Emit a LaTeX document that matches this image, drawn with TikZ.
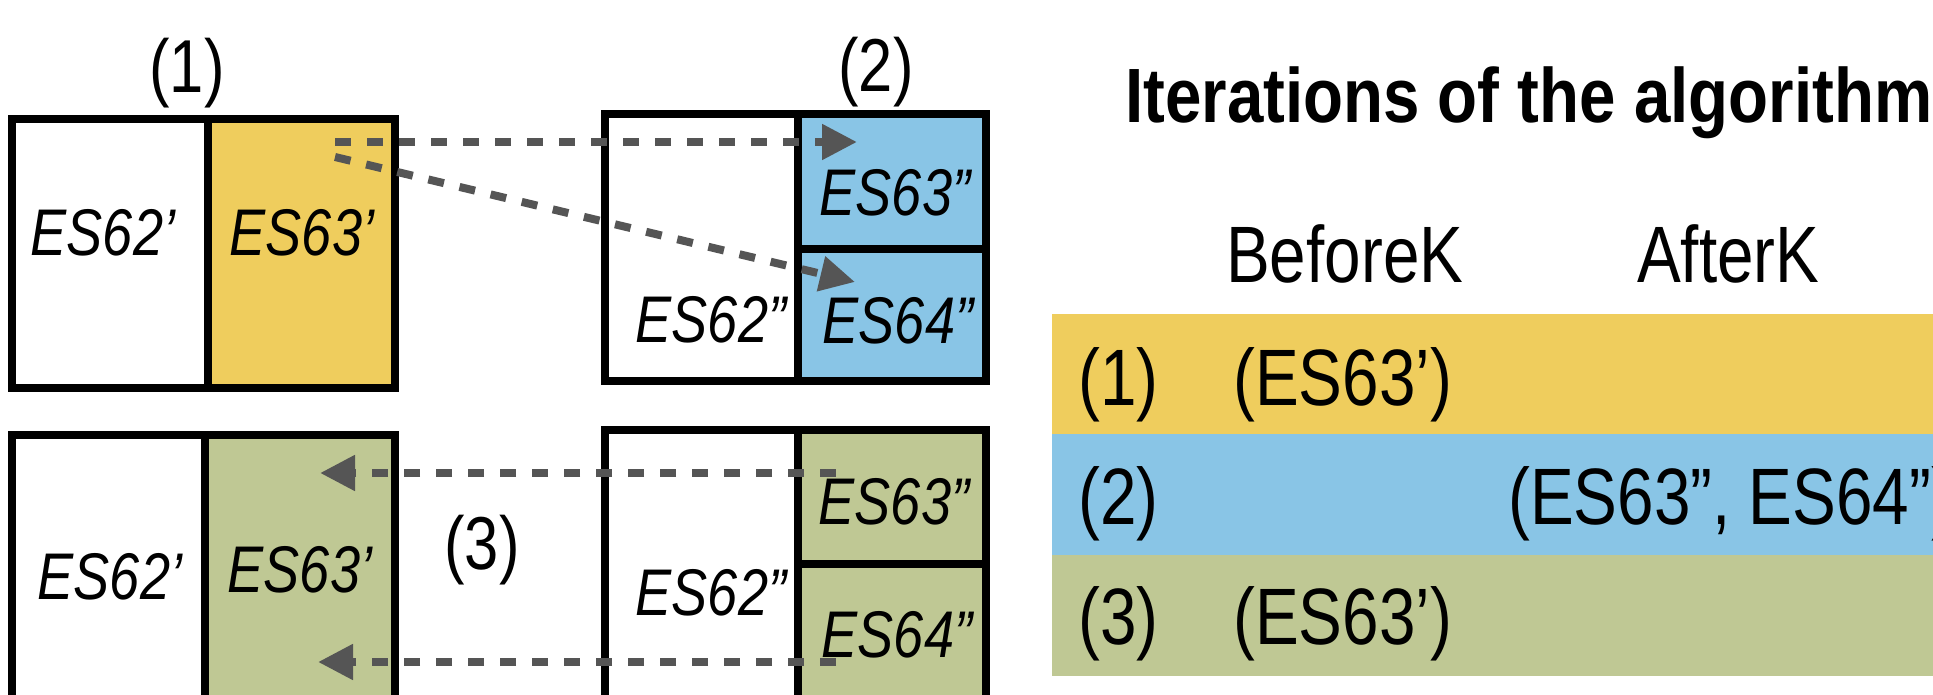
\documentclass[tikz,border=0pt]{standalone}
\usepackage{fontspec}
\setmainfont{Liberation Sans}
\newfontfamily\narrowfont[FakeStretch=0.82]{Liberation Sans}
\newfontfamily\narrowbold[FakeStretch=0.85]{Liberation Sans Bold}
\usetikzlibrary{arrows.meta}
\definecolor{cyel}{RGB}{239,205,93}
\definecolor{cblu}{RGB}{137,197,230}
\definecolor{cgrn}{RGB}{191,200,148}
\definecolor{carr}{RGB}{85,85,85}
\tikzset{
  cell/.style={draw=black, line width=8pt, inner sep=0pt, outer sep=0pt, rectangle},
  band/.style={inner sep=0pt, outer sep=0pt, rectangle, draw=none},
  lbl/.style={font=\narrowfont\itshape\fontsize{66}{70}\selectfont, inner sep=0pt, anchor=base},
  big/.style={font=\narrowfont\fontsize{80}{90}\selectfont, inner sep=0pt, anchor=base west},
  steplbl/.style={font=\narrowfont\fontsize{75}{80}\selectfont, inner sep=0pt},
  ttl/.style={font=\narrowbold\fontsize{77}{85}\selectfont, inner sep=0pt, anchor=base west},
  flow/.style={draw=carr, line width=8pt, dash pattern=on 16pt off 16pt,
    -{Triangle[length=35pt,width=34pt]}},
}
\begin{document}
\begin{tikzpicture}[x=1pt,y=-1pt]
\useasboundingbox (0,0) rectangle (1933,695);
\clip (0,0) rectangle (1933,695);

% box (1)
\node[cell, fill=white, minimum width=196pt, minimum height=269pt] (b1l) at (110,253.5) {};
\node[cell, fill=cyel, minimum width=187pt, minimum height=269pt] (b1r) at (301.5,253.5) {};
% box (2)
\node[cell, fill=white, minimum width=193pt, minimum height=267pt] (b2l) at (701.5,247.5) {};
\node[cell, fill=cblu, minimum width=188pt, minimum height=135pt] (b2t) at (892,181.5) {};
\node[cell, fill=cblu, minimum width=188pt, minimum height=132pt] (b2b) at (892,315) {};
% box (3) left
\node[cell, fill=white, minimum width=193pt, minimum height=325pt] (b3l) at (108.5,597.5) {};
\node[cell, fill=cgrn, minimum width=190pt, minimum height=325pt] (b3r) at (300,597.5) {};
% box (3) right
\node[cell, fill=white, minimum width=193pt, minimum height=330pt] (b4l) at (701.5,595) {};
\node[cell, fill=cgrn, minimum width=188pt, minimum height=134pt] (b4t) at (892,497) {};
\node[cell, fill=cgrn, minimum width=188pt, minimum height=196pt] (b4b) at (892,662) {};

% cell texts
\node[lbl] (t1l) at (103,255) {ES62’};
\node[lbl] (t1r) at (302,255) {ES63’};
\node[lbl] (t2l) at (711,342) {ES62”};
\node[lbl] (t2t) at (895,215) {ES63”};
\node[lbl] (t2b) at (898,343) {ES64”};
\node[lbl] (t3l) at (110,599) {ES62’};
\node[lbl] (t3r) at (300,592) {ES63’};
\node[lbl] (t4l) at (711,615) {ES62”};
\node[lbl] (t4t) at (894,524) {ES63”};
\node[lbl] (t4b) at (897,657) {ES64”};

% step labels
\node[steplbl] (s1lbl) at (187,73) {(1)};
\node[steplbl] (s2lbl) at (876,72) {(2)};
\node[steplbl] (s3lbl) at (482,550) {(3)};

% connectors
\coordinate (a1s) at (335,142); \coordinate (a1e) at (857,142);
\coordinate (a2s) at (335,157); \coordinate (a2e) at (855,282);
\coordinate (a3s) at (836,473); \coordinate (a3e) at (320,473);
\coordinate (a4s) at (836,662); \coordinate (a4e) at (318,662);
\draw[flow] (a1s) -- (a1e);
\draw[flow] (a2s) -- (a2e);
\draw[flow] (a3s) -- (a3e);
\draw[flow] (a4s) -- (a4e);

% table
\node[ttl] (title) at (1125,123) {Iterations of the algorithm};
\node[big] (hbefore) at (1226,282) {BeforeK};
\node[big] (hafter) at (1637,282) {AfterK};
\node[band, fill=cyel, minimum width=908pt, minimum height=120pt] (r1) at (1506,374) {};
\node[band, fill=cblu, minimum width=908pt, minimum height=121pt] (r2) at (1506,494.5) {};
\node[band, fill=cgrn, minimum width=908pt, minimum height=121pt] (r3) at (1506,615.5) {};
\node[big] (r1n) at (1078,405) {(1)};
\node[big] (r1b) at (1233,405) {(ES63’)};
\node[big] (r2n) at (1078,524) {(2)};
\node[big] (r2a) at (1508,524) {(ES63”, ES64”)};
\node[big] (r3n) at (1078,644) {(3)};
\node[big] (r3b) at (1233,644) {(ES63’)};
\end{tikzpicture}
\end{document}
